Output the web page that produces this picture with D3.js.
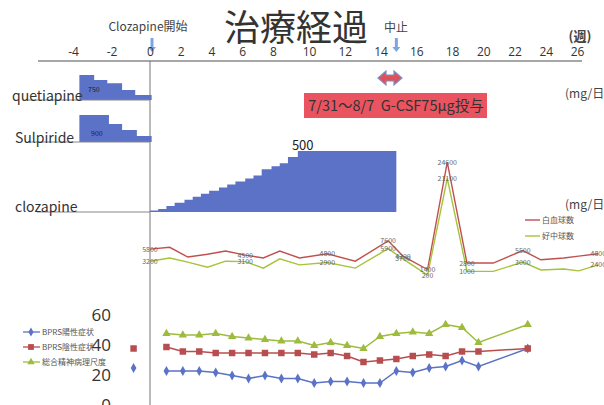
<!DOCTYPE html>
<html>
<head>
<meta charset="utf-8">
<script src="https://cdn.jsdelivr.net/npm/d3@7"></script>
<style>
body { margin: 0; background: #fff; }
text { font-family: "Noto Sans CJK JP", "Noto Sans", sans-serif; }
</style>
</head>
<body>
<script>
// week ticks on the top axis
const axisWeeks = [-4, -2, 0, 2, 4, 6, 8, 10, 12, 14, 16, 18, 20, 22, 24, 26];

// pre-clozapine drugs (start week of each step, mg/day)
const quetiapineWeeks = [-4.3, -3.4, -2.6, -1.7, -0.9, 0.1];
const quetiapineDose = [750, 600, 500, 300, 150, 150];
const sulpirideWeeks = [-4.3, -2.5, -1.7, -0.8, 0.1];
const sulpirideDose = [900, 600, 400, 200, 200];

// clozapine titration (start week of each step, mg/day)
const clozapineWeeks = [0, 0.5, 1, 1.5, 2.1, 2.6, 3.1, 3.6, 4.2, 4.7, 5.2, 5.8, 6.3, 6.8, 7.4, 7.9, 8.4, 9.0, 15];
const clozapineDose = [12.5, 25, 50, 75, 100, 125, 150, 175, 200, 225, 250, 275, 300, 350, 375, 400, 450, 500, 500];

// blood counts
const wbcWeeks = [0, 1.2, 2.3, 3.5, 4.6, 5.8, 6.9, 7.9, 9.1, 10.8, 12.5, 14.5, 15.4, 16.9, 18.1, 19.3, 20.9, 22.7, 23.8, 25.2, 26.1, 27.3];
const wbc = [5800, 6200, 4100, 4700, 5400, 4500, 3900, 5400, 3900, 4800, 3200, 7600, 4300, 1400, 24600, 2800, 2800, 5500, 3500, 3900, 4300, 4800];
const neutro = [3200, 3900, 3000, 1900, 3200, 3100, 1700, 3700, 2400, 2900, 1700, 5900, 3700, 200, 21100, 1000, 1000, 3000, 1300, 1500, 1100, 2400];
const wbcLabelIdx = [0, 5, 9, 11, 12, 13, 14, 15, 17, 21];

// BPRS scores
const bprsWeeks = [-1, 1, 2, 3, 4, 5, 6, 7, 8, 9, 10, 11, 12, 13, 14, 15, 16, 17, 18, 19, 20, 23];
const bprsPos = [24, 22, 22, 22, 21, 19, 17, 19, 17, 17, 14, 15, 15, 14, 14, 22, 21, 24, 25, 29, 25, 37];
const bprsNeg = [37, 38, 35, 35, 34, 34, 34, 34, 34, 34, 33, 34, 32, 28, 29, 30, 32, 33, 32, 35, 35, 37];
const bprsTotal = [null, 47, 46, 46, 47, 45, 44, 43, 42, 42, 39, 41, 39, 37, 45, 47, 48, 47, 53, 51, 41, 53];
const bprsTicks = [0, 20, 40, 60];

const W = 604, H = 405;
const blue = "#5b72c6", red = "#b84d4f", green = "#9dbb3c";

const svg = d3.select("body").append("svg")
    .attr("width", W)
    .attr("height", H);

// top axis labels were placed by hand, so the axis scale is piecewise
const axisX = d3.scaleLinear()
    .domain([-4, 0, 8, 10, 18, 26])
    .range([73, 150, 273, 309, 452, 577]);
// the data panels share a plain weekly scale
const x = d3.scaleLinear().domain([0, 26]).range([150, 577]);

// title and notes
svg.append("text").attr("x", 296).attr("y", 41).attr("text-anchor", "middle")
    .attr("font-size", 36).attr("fill", "#333").text("治療経過");
svg.append("text").attr("x", 148).attr("y", 31).attr("text-anchor", "middle")
    .attr("font-size", 12).attr("fill", "#444").text("Clozapine開始");
svg.append("text").attr("x", 396).attr("y", 32).attr("text-anchor", "middle")
    .attr("font-size", 12).attr("fill", "#444").text("中止");
svg.append("text").attr("x", 580).attr("y", 41).attr("text-anchor", "middle")
    .attr("font-size", 13).attr("font-weight", "bold").attr("fill", "#444").text("(週)");

// arrows for start / stop
function downArrow(cx, y0, y1) {
    svg.append("line").attr("x1", cx).attr("x2", cx).attr("y1", y0).attr("y2", y1 - 4)
        .attr("stroke", "#7aa7e0").attr("stroke-width", 3);
    svg.append("path")
        .attr("d", `M${cx - 4},${y1 - 5}L${cx + 4},${y1 - 5}L${cx},${y1}Z`)
        .attr("fill", "#7aa7e0");
}
downArrow(axisX(0) + 2, 38, 52);
downArrow(x(15), 38, 52);

// top axis
svg.append("line").attr("x1", 38).attr("x2", 582).attr("y1", 61).attr("y2", 61)
    .attr("stroke", "#888").attr("stroke-width", 1.5);
const ax = svg.append("g").attr("transform", "translate(0,61)")
    .call(d3.axisTop(axisX).tickValues(axisWeeks).tickSize(0).tickPadding(5)
        .tickFormat(d => d < 0 ? "-" + Math.abs(d) : d));
ax.select(".domain").remove();
ax.selectAll("text").attr("font-size", 12).attr("fill", "#333")
    .style("font-family", "'Open Sans', 'Noto Sans', sans-serif");

// vertical marker at clozapine start
svg.append("line").attr("x1", 150).attr("x2", 150).attr("y1", 61).attr("y2", H)
    .attr("stroke", "#777").attr("stroke-width", 1);

// G-CSF double arrow + box
svg.append("path")
    .attr("d", "M378,78L386,71L386,75L394,75L394,71L402,78L394,85L394,81L386,81L386,85Z")
    .attr("fill", "#e0505a").attr("stroke", "#7d8fc0").attr("stroke-width", 1.2);
svg.append("rect").attr("x", 304).attr("y", 93).attr("width", 183).attr("height", 25)
    .attr("fill", "#ea5460");
svg.append("text").attr("x", 396).attr("y", 111).attr("text-anchor", "middle")
    .attr("font-size", 14.5).attr("fill", "#333").style("white-space", "pre")
    .text("7/31～8/7  G-CSF75μg投与");

svg.append("text").attr("x", 565).attr("y", 98).attr("font-size", 12).attr("fill", "#444").text("(mg/日)");
svg.append("text").attr("x", 565).attr("y", 209).attr("font-size", 12).attr("fill", "#444").text("(mg/日)");

// step areas for doses
function doseArea(weeks, dose, base, yScale) {
    const pts = weeks.map((w, i) => [w, dose[i]]);
    const area = d3.area()
        .x(d => x(d[0]))
        .y0(base)
        .y1(d => yScale(d[1]))
        .curve(d3.curveStepAfter);
    svg.append("path").datum(pts).attr("d", area).attr("fill", blue);
}

const qY = d3.scaleLinear().domain([0, 750]).range([100, 75]);
doseArea(quetiapineWeeks, quetiapineDose, 100, qY);
svg.append("line").attr("x1", 26).attr("x2", 150).attr("y1", 100).attr("y2", 100).attr("stroke", "#888");
svg.append("text").attr("x", 12).attr("y", 101).attr("font-size", 14).attr("fill", "#333").text("quetiapine");
svg.append("text").attr("x", 88).attr("y", 92).attr("font-size", 7).attr("fill", "#222").text(quetiapineDose[0]);

const sY = d3.scaleLinear().domain([0, 900]).range([142, 115]);
doseArea(sulpirideWeeks, sulpirideDose, 142, sY);
svg.append("line").attr("x1", 28).attr("x2", 150).attr("y1", 142).attr("y2", 142).attr("stroke", "#888");
svg.append("text").attr("x", 15).attr("y", 143).attr("font-size", 14).attr("fill", "#333").text("Sulpiride");
svg.append("text").attr("x", 91).attr("y", 136).attr("font-size", 7).attr("fill", "#222").text(sulpirideDose[0]);

const cY = d3.scaleLinear().domain([0, 500]).range([212, 151]);
doseArea(clozapineWeeks, clozapineDose, 212, cY);
svg.append("line").attr("x1", 37).attr("x2", 150).attr("y1", 212).attr("y2", 212).attr("stroke", "#888");
svg.append("text").attr("x", 15).attr("y", 212).attr("font-size", 14).attr("fill", "#333").text("clozapine");
svg.append("text").attr("x", x(9.3)).attr("y", 150).attr("text-anchor", "middle")
    .attr("font-size", 13).attr("fill", "#222").text(d3.max(clozapineDose));

// blood counts
const wY = d3.scaleLinear().domain([0, 25000]).range([276, 160.3]);
function countLine(vals, color) {
    const line = d3.line().x((d, i) => x(wbcWeeks[i])).y(d => wY(d));
    svg.append("path").datum(vals).attr("d", line)
        .attr("fill", "none").attr("stroke", color).attr("stroke-width", 1.4);
}
countLine(wbc, "#c0504d");
countLine(neutro, "#a6c33a");
wbcLabelIdx.forEach(i => {
    [wbc, neutro].forEach(vals => {
        svg.append("text").attr("x", x(wbcWeeks[i])).attr("y", wY(vals[i]) + 2.5)
            .attr("text-anchor", "middle").attr("font-size", 7).attr("fill", "#666")
            .text(vals[i]);
    });
});
[["白血球数", "#c0504d", 220], ["好中球数", "#a6c33a", 236]].forEach(([t, c, y]) => {
    svg.append("line").attr("x1", 525).attr("x2", 540).attr("y1", y).attr("y2", y)
        .attr("stroke", c).attr("stroke-width", 1.4);
    svg.append("text").attr("x", 542).attr("y", y + 3).attr("font-size", 8).attr("fill", "#555").text(t);
});

// BPRS panel
const bY = d3.scaleLinear().domain([0, 60]).range([404, 314]);
svg.selectAll(".btick").data(bprsTicks).enter().append("text")
    .attr("x", 111).attr("y", d => bY(d) + 7).attr("text-anchor", "end")
    .attr("font-size", 17).attr("fill", "#333")
    .style("font-family", "'Open Sans', 'Noto Sans', sans-serif")
    .text(d => d);

const series = [
    { name: "BPRS陽性症状", vals: bprsPos, color: blue, sym: d3.symbolDiamond, size: 28 },
    { name: "BPRS陰性症状", vals: bprsNeg, color: red, sym: d3.symbolSquare, size: 42 },
    { name: "総合精神病理尺度", vals: bprsTotal, color: green, sym: d3.symbolTriangle, size: 30 }
];
series.forEach((s, k) => {
    // the pre-treatment point stands alone
    const pts = s.vals.map((v, i) => ({ w: bprsWeeks[i], v })).filter(d => d.v != null);
    const joined = pts.filter(d => d.w > 0);
    svg.append("path").datum(joined)
        .attr("d", d3.line().x(d => x(d.w)).y(d => bY(d.v)))
        .attr("fill", "none").attr("stroke", s.color).attr("stroke-width", 1.5);
    svg.selectAll(null).data(pts).enter().append("path")
        .attr("transform", d => `translate(${x(d.w)},${bY(d.v)})`)
        .attr("d", d3.symbol().type(s.sym).size(s.size))
        .attr("fill", s.color);
    const ly = 332 + k * 15;
    svg.append("line").attr("x1", 23).attr("x2", 40).attr("y1", ly).attr("y2", ly)
        .attr("stroke", s.color).attr("stroke-width", 1.3);
    svg.append("path").attr("transform", `translate(31,${ly})`)
        .attr("d", d3.symbol().type(s.sym).size(s.size * 0.8)).attr("fill", s.color);
    svg.append("text").attr("x", 42).attr("y", ly + 3).attr("font-size", 8)
        .attr("fill", "#555").text(s.name);
});
</script>
</body>
</html>
